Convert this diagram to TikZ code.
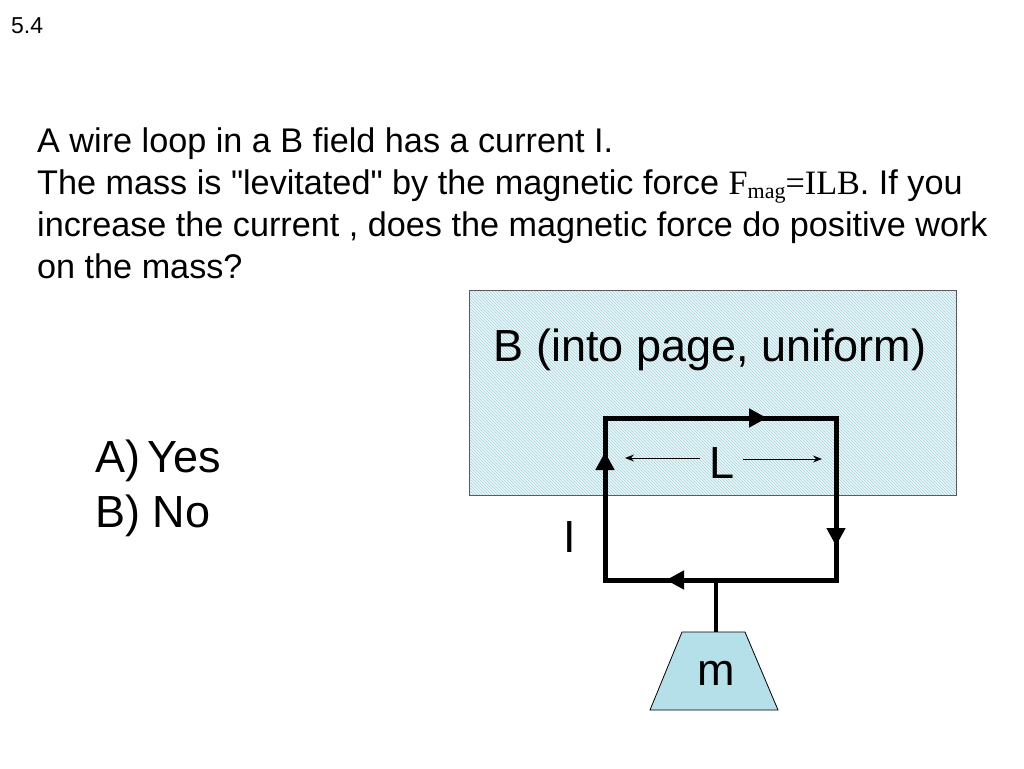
\documentclass[tikz,border=0pt]{standalone}
\usepackage{fontspec}
\setmainfont{Liberation Sans}
\newfontfamily\plainf{Liberation Sans}
\newfontfamily\timesf{Liberation Serif}
\usetikzlibrary{patterns,arrows.meta}
\definecolor{mass}{HTML}{B5E0EA}
\begin{document}
\begin{tikzpicture}[x=1pt,y=-1pt,
  txt/.style={anchor=base west,inner sep=0pt,font=\plainf\fontsize{34.2}{38}\selectfont},
  big/.style={inner sep=0pt,font=\fontsize{45}{50}\selectfont},
  wire/.style={line width=5pt},
  tipr/.style={-{Triangle[length=18pt,width=18pt]}}]
\useasboundingbox (0,0) rectangle (1024,768);
\node[anchor=base west,inner sep=0pt,font=\fontsize{23}{26}\selectfont] (num) at (11,34) {5.4};
\node[txt] (l1) at (37,152) {A wire loop in a B field has a current I.};
\node[txt] (l2) at (37,194) {The mass is {\plainf\char34}levitated{\plainf\char34} by the magnetic force {\timesf F\raisebox{-4pt}{\fontsize{22}{24}\selectfont mag}=ILB}. If you};
\node[txt] (l3) at (37,236) {increase the current , does the magnetic force do positive work};
\node[txt] (l4) at (37,278) {on the mass?};
\fill[cyan!8] (469,290) rectangle (956,495);
\fill[pattern=north west lines,pattern color=teal!35] (469,290) rectangle (956,495);
\draw[gray!70!black,line width=0.8pt] (469,290) rectangle (956,495);
\node[big] (B) at (710,350) {B (into page, uniform)};
\node[big,anchor=base west] (A) at (95,472) {A)\,Yes};
\node[big,anchor=base west] (Bn) at (95,527) {B) No};
\coordinate (c1) at (605,418);
\coordinate (c2) at (836,418);
\coordinate (c3) at (836,580);
\coordinate (c4) at (605,580);
\draw[wire,line join=miter] (c1) -- (c2) -- (c3) -- (c4) -- cycle;
\draw[wire,tipr] (c1) -- ++(162,0);
\draw[wire,tipr] (c2) -- ++(0,128);
\draw[wire,tipr] (c3) -- ++(-170,0);
\draw[wire,tipr] (c4) -- ++(0,-128);
\node[big] (L) at (722,463) {L};
\draw[-{Stealth[length=9pt,width=7pt]},line width=1pt] (700,458) -- (625,458);
\draw[-{Stealth[length=9pt,width=7pt]},line width=1pt] (743,459) -- (822,459);
\node[big] (I) at (570,537) {I};
\coordinate (s) at (716,580);
\coordinate (t) at (716,632);
\draw[line width=4pt] (s) -- (t);
\fill[mass] (682,632) -- (745,632) -- (778,710) -- (650,710) -- cycle;
\draw[black,line width=0.8pt] (682,632) -- (745,632) -- (778,710) -- (650,710) -- cycle;
\node[big] (m) at (716,673) {m};
\end{tikzpicture}
\end{document}
